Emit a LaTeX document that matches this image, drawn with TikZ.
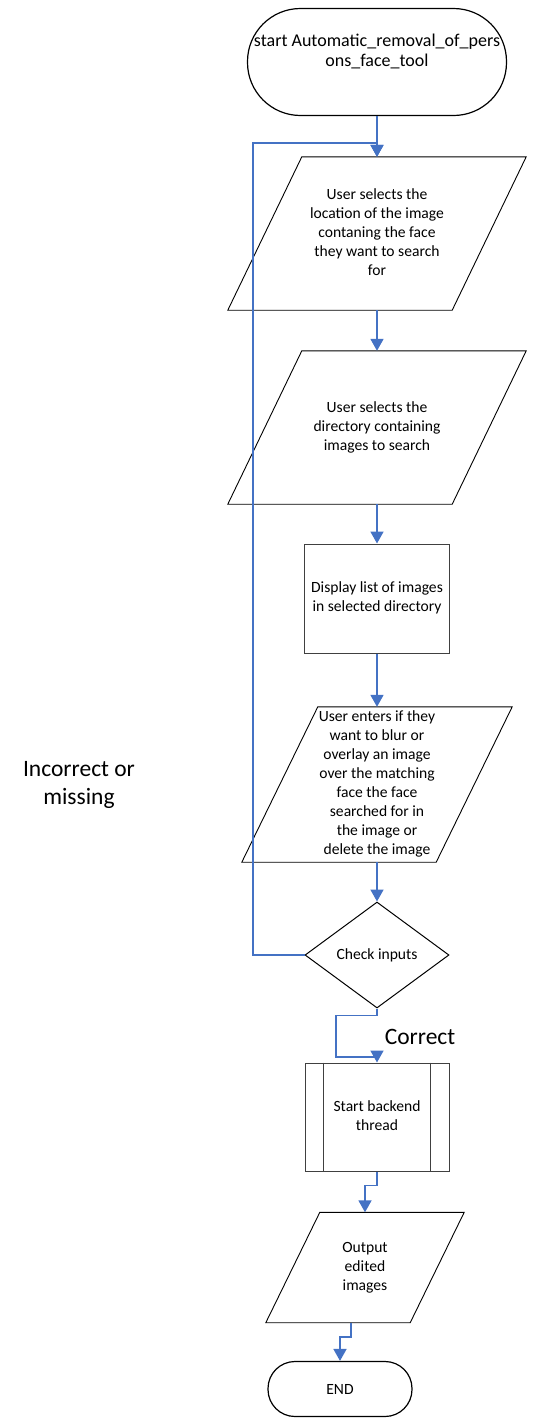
\documentclass[tikz,border=0pt]{standalone}
\usepackage{fontspec}
\setmainfont{Carlito}
\usetikzlibrary{shapes.geometric,arrows.meta}

\definecolor{flowblue}{HTML}{4472C4}

% slanted outline round an io node, #2 = half of the slant
\newcommand{\ioframe}[2]{%
	\draw[line width=0.9pt] ([xshift=#2pt]#1.north west) -- ([xshift=#2pt]#1.north east)
		-- ([xshift=-#2pt]#1.south east) -- ([xshift=-#2pt]#1.south west) -- cycle;}

\begin{document}
\begin{tikzpicture}[x=1pt,y=1pt,
		every node/.style={font=\fontsize{15.6}{19}\selectfont},
		term/.style={draw,line width=1.2pt,rectangle,inner sep=0pt},
		io/.style={rectangle,inner sep=0pt},
		box/.style={draw=black!75,line width=1pt,rectangle,inner sep=0pt,minimum width=145pt,minimum height=109pt},
		subproc/.style={draw=black!75,line width=1pt,rectangle,inner sep=0pt,minimum width=144pt,minimum height=108pt},
		decision/.style={draw,line width=1pt,diamond,inner sep=0pt,minimum width=144pt,minimum height=106pt},
		note/.style={font=\fontsize{23.5}{28}\selectfont},
		flow/.style={color=flowblue,line width=1.8pt,-{Triangle[width=13pt,length=12pt]}}]
		\useasboundingbox (0,0) rectangle (537,-1427);
		\draw (377,-62) node [term,rounded corners=53pt,minimum width=259pt,minimum height=107pt,font=\fontsize{18}{20}\selectfont] (start) {\raisebox{5pt}[0pt][0pt]{\begin{tabular}{@{}c@{}} start Automatic\_removal\_of\_pers \\ ons\_face\_tool \end{tabular}}};
		\draw (377,-233.5) node [io,minimum width=224pt,minimum height=153pt] (loc) {\begin{tabular}{@{}c@{}} User selects the \\ location of the image \\ contaning the face \\ they want to search \\ for \end{tabular}};
		\draw (377,-427.5) node [io,minimum width=224pt,minimum height=153pt] (dir) {\begin{tabular}{@{}c@{}} User selects the \\ directory containing \\ images to search \end{tabular}};
		\draw (377,-598.5) node [box] (list) {\begin{tabular}{@{}c@{}} Display list of images \\ in selected directory \end{tabular}};
		\draw (377,-784.5) node [io,minimum width=194pt,minimum height=155pt] (mode) {\begin{tabular}{@{}c@{}} User enters if they \\ want to blur or \\ overlay an image \\ over the matching \\ face the face \\ searched for in \\ the image or \\ delete the image \end{tabular}};
		\draw (377,-955) node [decision] (check) {Check inputs};
		\draw (377,-1117) node [subproc] (backend) {\begin{tabular}{@{}c@{}} Start backend \\ thread \end{tabular}};
		\draw (365,-1267.5) node [io,minimum width=144pt,minimum height=110pt] (output) {\begin{tabular}{@{}c@{}} Output \\ edited \\ images \end{tabular}};
		\draw (340,-1389) node [term,rounded corners=27pt,minimum width=144pt,minimum height=55pt] (end) {END};
		\draw (79,-785) node [note] (incorrect) {\begin{tabular}{@{}c@{}} Incorrect or \\ missing \end{tabular}};
		\draw (420,-1037) node [note] (correct) {Correct};
		\ioframe{loc}{37}
		\ioframe{dir}{37}
		\ioframe{mode}{38}
		\ioframe{output}{27}
		\draw [black!75,line width=1pt]
			([xshift=19pt]backend.north west) -- ([xshift=19pt]backend.south west)
			([xshift=-19pt]backend.north east) -- ([xshift=-19pt]backend.south east);
		\coordinate (back) at (253,-143);
		\coordinate (jog) at (336,-1057);
		\path[flow]
			(start.south) edge (loc.north)
			(loc.south) edge (dir.north)
			(dir.south) edge (list.north)
			(list.south) edge (mode.north)
			(mode.south) edge (check.north);
		\draw[flow] (check.west) -| (back) -| (loc.north);
		\draw[flow] (check.south) -- ++(0,-7) -| (jog) -| (backend.north);
		\draw[flow] (backend.south) -- ++(0,-14) -| (output.north);
		\draw[flow] ([xshift=-14pt]output.south) -- ++(0,-14) -| (end.north);
	\end{tikzpicture}
\end{document}
